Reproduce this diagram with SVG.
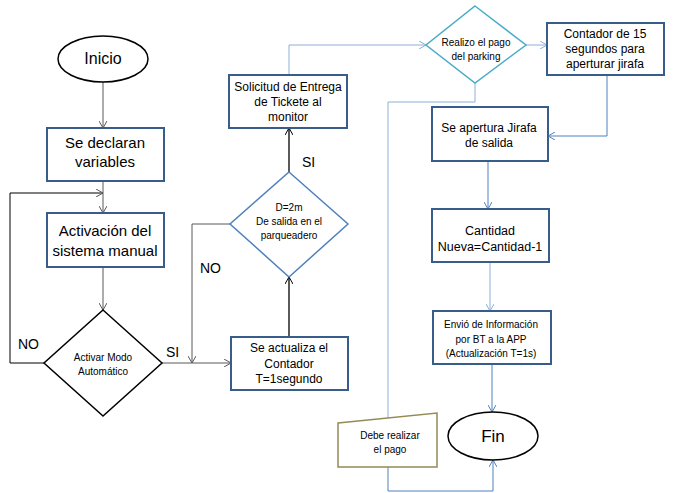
<svg xmlns="http://www.w3.org/2000/svg" width="686" height="493" viewBox="0 0 686 493">
<style>
text{font-family:"Liberation Sans",Arial,sans-serif;fill:#000;text-anchor:middle}
.box{fill:#fff;stroke:#385d8a;stroke-width:2}
.term{fill:#fff;stroke:#000;stroke-width:1.5}
.c{fill:none;stroke-width:1}
.g{stroke:#595959}
.k{stroke:#000;stroke-width:1.3}
.b{stroke:#4f81bd}
.lb{stroke:#8eb0d8}
.big{font-size:15px}
.m{font-size:12px}
.s{font-size:10px}
.lbl{font-size:14px;text-anchor:start}
</style>
<defs>
<marker id="ag" markerUnits="userSpaceOnUse" viewBox="0 0 7 8" refX="7" refY="4" markerWidth="7" markerHeight="8" orient="auto"><path d="M0,0 L7,4 L0,8" fill="none" stroke="#595959"/></marker>
<marker id="ak" markerUnits="userSpaceOnUse" viewBox="0 0 7 8" refX="7" refY="4" markerWidth="7" markerHeight="8" orient="auto"><path d="M0,0 L7,4 L0,8" fill="none" stroke="#000"/></marker>
<marker id="ab" markerUnits="userSpaceOnUse" viewBox="0 0 7 8" refX="7" refY="4" markerWidth="7" markerHeight="8" orient="auto"><path d="M0,0 L7,4 L0,8" fill="none" stroke="#4f81bd"/></marker>
<marker id="alb" markerUnits="userSpaceOnUse" viewBox="0 0 7 8" refX="7" refY="4" markerWidth="7" markerHeight="8" orient="auto"><path d="M0,0 L7,4 L0,8" fill="none" stroke="#8eb0d8"/></marker>
</defs>
<rect width="686" height="493" fill="#fff"/>
<g id="connectors">
<path class="c g" d="M103,82 V128" marker-end="url(#ag)"/>
<path class="c g" d="M103,181 V213" marker-end="url(#ag)"/>
<path class="c k" style="stroke-width:1" d="M44,363 H10 V193 H103" marker-end="url(#ag)"/>
<path class="c g" d="M103,267 V310" marker-end="url(#ag)"/>
<path class="c g" d="M162,363 H231" marker-end="url(#ag)"/>
<path class="c g" d="M230,224 H192 V363" marker-end="url(#ag)"/>
<path class="c k" d="M289,337 V277" marker-end="url(#ak)"/>
<path class="c k" d="M289,172 V128" marker-end="url(#ak)"/>
<path class="c lb" d="M289,75 V45 H426" marker-end="url(#alb)"/>
<path class="c lb" d="M526,45 H547" marker-end="url(#alb)"/>
<path class="c b" d="M607,75 V136 H548" marker-end="url(#ab)"/>
<path class="c b" d="M488,161 V209" marker-end="url(#ab)"/>
<path class="c lb" d="M490,262 V311" marker-end="url(#alb)"/>
<path class="c b" d="M492,364 V412" marker-end="url(#ab)"/>
<path class="c lb" d="M475,83 V102 H388 V418"/>
<path class="c b" d="M388,467 V491 H493 V460" marker-end="url(#ab)"/>
<text class="lbl" x="18" y="349">NO</text>
<text class="lbl" x="166" y="357">SI</text>
<text class="lbl" x="200" y="273">NO</text>
<text class="lbl" x="302" y="167">SI</text>
</g>
<g id="inicio">
<ellipse class="term" cx="103" cy="59" rx="45" ry="23"/>
<text x="103" y="64" style="font-size:16px">Inicio</text>
</g>
<g id="declaran">
<rect class="box" x="47" y="128" width="117" height="53"/>
<text class="big" x="105" y="148">Se declaran</text>
<text class="big" x="105" y="167">variables</text>
</g>
<g id="activacion">
<rect class="box" x="47" y="213" width="117" height="54"/>
<text class="big" x="105" y="236">Activación del</text>
<text class="big" x="105" y="256">sistema manual</text>
</g>
<g id="activar">
<polygon points="103,310 162,363 103,416 44,363" fill="#fff" stroke="#000" stroke-width="1.5"/>
<text class="s" x="103" y="361">Activar Modo</text>
<text class="s" x="103" y="375">Automático</text>
</g>
<g id="actualiza">
<rect class="box" x="231" y="337" width="117" height="53"/>
<text class="m" x="289" y="352">Se actualiza el</text>
<text class="m" x="289" y="368">Contador</text>
<text class="m" x="289" y="383">T=1segundo</text>
</g>
<g id="d2m">
<polygon points="289,172 348,224 289,277 230,224" fill="#fff" stroke="#4f81bd" stroke-width="1.5"/>
<text class="s" x="289" y="211">D=2m</text>
<text class="s" x="289" y="225">De salida en el</text>
<text class="s" x="289" y="239">parqueadero</text>
</g>
<g id="solicitud">
<rect class="box" x="229" y="75" width="118" height="53"/>
<text class="m" x="288" y="91">Solicitud de Entrega</text>
<text class="m" x="288" y="106">de Tickete al</text>
<text class="m" x="288" y="121">monitor</text>
</g>
<g id="realizo">
<polygon points="475,6 526,45 475,83 426,45" fill="#fff" stroke="#4bacc6" stroke-width="1.5"/>
<text class="s" x="476" y="46">Realizo el pago</text>
<text class="s" x="476" y="60">del parking</text>
</g>
<g id="contador">
<rect class="box" x="547" y="23" width="117" height="52"/>
<text class="m" x="605" y="38">Contador de 15</text>
<text class="m" x="605" y="53">segundos para</text>
<text class="m" x="605" y="68">aperturar jirafa</text>
</g>
<g id="apertura">
<rect class="box" x="432" y="107" width="116" height="54"/>
<text class="m" x="489" y="132">Se apertura Jirafa</text>
<text class="m" x="489" y="147">de salida</text>
</g>
<g id="cantidad">
<rect class="box" x="432" y="209" width="117" height="53"/>
<text class="m" x="490" y="235" style="font-size:12.5px">Cantidad</text>
<text class="m" x="490" y="251" style="font-size:12.5px">Nueva=Cantidad-1</text>
</g>
<g id="envio">
<rect class="box" x="433" y="311" width="118" height="53"/>
<text class="s" x="491" y="328">Envió de Información</text>
<text class="s" x="491" y="343">por BT a la APP</text>
<text class="s" x="491" y="357">(Actualización  T=1s)</text>
</g>
<g id="debe">
<polygon points="338,423 437,413 437,467 338,467" fill="#fff" stroke="#948a54" stroke-width="1.5"/>
<text class="s" x="390" y="439">Debe realizar</text>
<text class="s" x="390" y="453">el pago</text>
</g>
<g id="fin">
<ellipse class="term" cx="493" cy="436" rx="45" ry="24"/>
<text x="493" y="442" style="font-size:17px">Fin</text>
</g>
</svg>
